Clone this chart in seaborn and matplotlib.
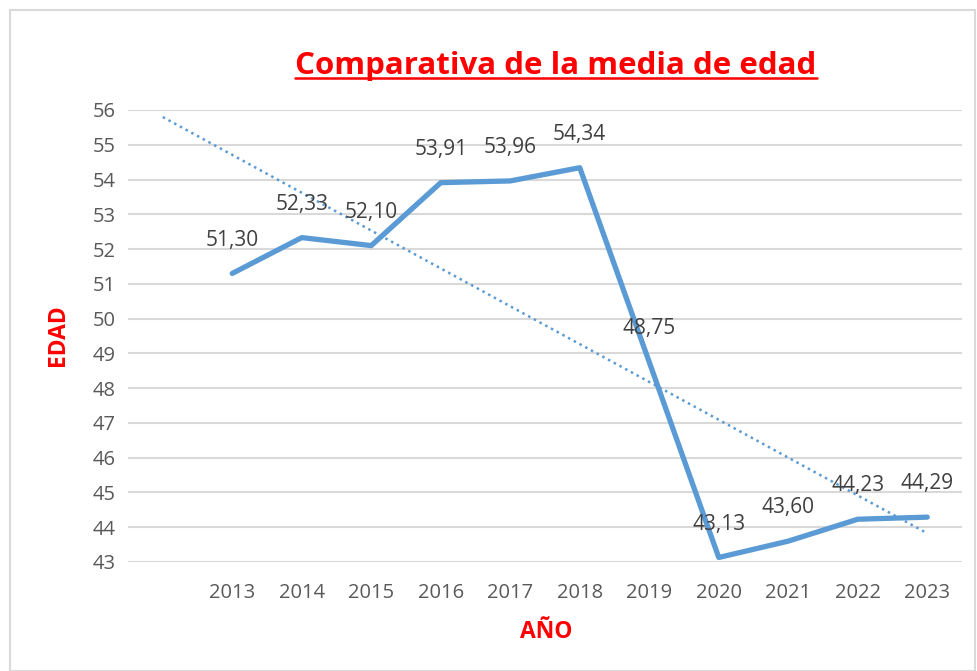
import numpy as np
import pandas as pd
import seaborn as sns
import matplotlib.pyplot as plt
from matplotlib.patches import Rectangle
from matplotlib.lines import Line2D

# data
years = ["", "2013", "2014", "2015", "2016", "2017", "2018", "2019", "2020", "2021", "2022", "2023"]
ages = [51.30, 52.33, 52.10, 53.91, 53.96, 54.34, 48.75, 43.13, 43.60, 44.23, 44.29]

BLUE = "#5B9BD5"
RED = "#FF0000"
GRAY = "#595959"

sns.set_theme(style="white")
plt.rcParams["font.family"] = ["Open Sans", "DejaVu Sans"]

df = pd.DataFrame({"pos": np.arange(1, len(ages) + 1), "edad": ages})

fig = plt.figure(figsize=(9.78, 6.71), dpi=100)
ax = fig.add_axes([128 / 978, 1 - 562 / 671, (962 - 128) / 978, (562 - 110) / 671])

sns.lineplot(data=df, x="pos", y="edad", color=BLUE, linewidth=3.8, ax=ax)

# linear trend, extended one period backwards like the Excel trendline
coef = np.polyfit(df["pos"], df["edad"], 1)
xt = np.array([0, len(ages)])
ax.plot(xt, np.polyval(coef, xt), color=BLUE, linestyle=(0, (1, 1.6)), linewidth=1.8)

for x, y in zip(df["pos"], df["edad"]):
    ax.annotate(f"{y:.2f}".replace(".", ","), (x, y), xytext=(0, 24),
                textcoords="offset points", ha="center", va="center",
                fontsize=15, color="#404040")

ax.set_xlim(-0.5, len(years) - 0.5)
ax.set_ylim(43, 56)
ax.set_yticks(range(43, 57))
ax.set_xticks(range(len(years)))
ax.set_xticklabels(years)
ax.tick_params(axis="both", labelsize=14.5, labelcolor=GRAY, length=0)
ax.tick_params(axis="y", pad=9)
ax.tick_params(axis="x", pad=15)
ax.yaxis.grid(True, color="#D9D9D9", linewidth=1.5)
ax.set_axisbelow(True)
for s in ax.spines.values():
    s.set_visible(False)

ax.set_xlabel("")
ax.set_ylabel("")
fig.text(546 / 978, 1 - 632 / 671, "AÑO", color=RED, fontsize=16.5, fontweight="bold",
         ha="center", va="center")
fig.text(58 / 978, 1 - 335 / 671, "EDAD", color=RED, fontsize=16.5, fontweight="bold",
         ha="center", va="center", rotation=90)

title = fig.text(556 / 978, 1 - 66 / 671, "Comparativa de la media de edad", color=RED,
                 fontsize=22.5, fontweight="bold", ha="center", va="center")

# underline the title
fig.canvas.draw()
bb = title.get_window_extent().transformed(fig.transFigure.inverted())
uy = bb.y0 + 0.004
fig.add_artist(Line2D([bb.x0, bb.x1], [uy, uy], color=RED, linewidth=1.8,
                      transform=fig.transFigure))

# light frame around the chart area
fig.add_artist(Rectangle((10 / 978, 0), 965 / 978, 1 - 10 / 671, fill=False,
                         edgecolor="#D9D9D9", linewidth=1.5, transform=fig.transFigure))

fig.savefig("out.png", dpi=100)
